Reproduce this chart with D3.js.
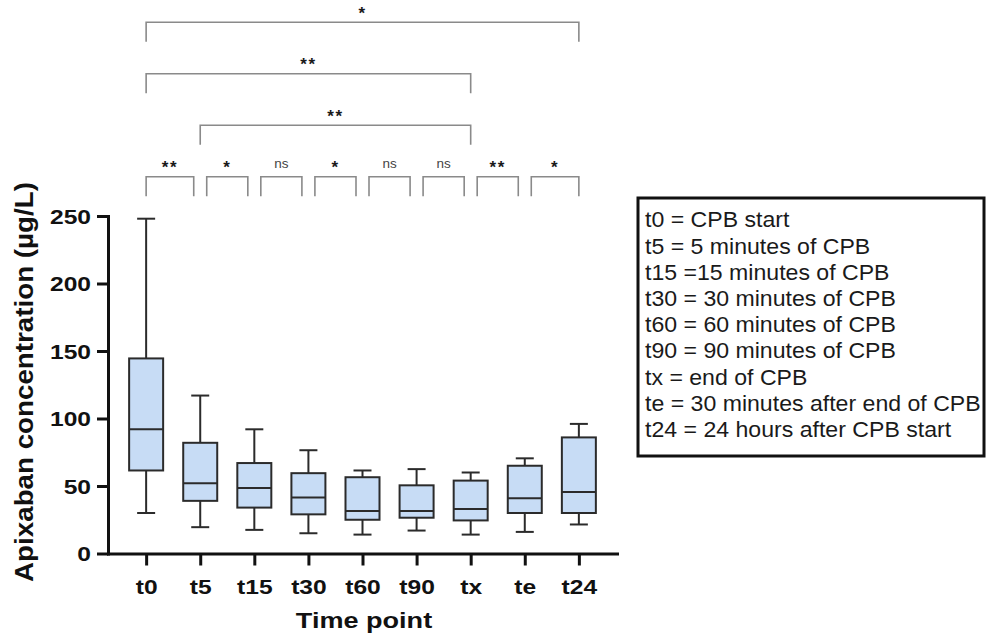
<!DOCTYPE html>
<html>
<head>
<meta charset="utf-8">
<script src="https://cdn.jsdelivr.net/npm/d3@7"></script>
<style>
  html, body { margin: 0; padding: 0; background: #fff; }
  svg { display: block; }
  text { font-family: "Liberation Sans", Arial, Helvetica, sans-serif; }
</style>
</head>
<body>
<svg id="chart" width="986" height="637"></svg>
<script>
// ---------------- data ----------------
const categories = ["t0", "t5", "t15", "t30", "t60", "t90", "tx", "te", "t24"];
const whiskerLow  = [30, 19.5, 17.5, 15, 14, 17, 14, 16, 21.5];
const q1          = [61.5, 39, 34, 29, 25, 26.5, 24.5, 30, 30];
const medians     = [92, 52, 48.5, 41.5, 31.5, 31.5, 33, 41, 45.5];
const q3          = [144.5, 82, 67, 59.5, 56.5, 50.5, 54, 65, 86];
const whiskerHigh = [248, 117, 92, 76.5, 61.5, 62.5, 60, 70.5, 96];
const yTicks = [0, 50, 100, 150, 200, 250];

const compFrom   = ["t0", "t5", "t15", "t30", "t60", "t90", "tx", "te", "t5", "t0", "t0"];
const compTo     = ["t5", "t15", "t30", "t60", "t90", "tx", "te", "t24", "tx", "tx", "t24"];
const compLabel  = ["**", "*", "ns", "*", "ns", "ns", "**", "*", "**", "**", "*"];
const compLevel  = [0, 0, 0, 0, 0, 0, 0, 0, 1, 2, 3];

const legendLines = [
  "t0 = CPB start",
  "t5 = 5 minutes of CPB",
  "t15 =15 minutes of CPB",
  "t30 = 30 minutes of CPB",
  "t60 = 60 minutes of CPB",
  "t90 = 90 minutes of CPB",
  "tx = end of CPB",
  "te = 30 minutes after end of CPB",
  "t24 = 24 hours after CPB start"
];

// ---------------- layout ----------------
const svg = d3.select("#chart");
const x = d3.scalePoint().domain(categories).range([108, 617]).padding(0.705);
const y = d3.scaleLinear().domain([0, 250]).range([553.5, 216]);

const boxHalf = 17, capHalf = 9;
const boxFill = "#c7dcf5", boxStroke = "#2b2b2b";

// ---------------- axes ----------------
const yAxis = svg.append("g").attr("transform", "translate(108,0)")
  .call(d3.axisLeft(y).tickValues(yTicks).tickSize(11).tickSizeOuter(0));
const xAxis = svg.append("g").attr("transform", "translate(0,553.5)")
  .call(d3.axisBottom(x).tickSize(12).tickSizeOuter(0));

[yAxis, xAxis].forEach(g => {
  g.select(".domain").attr("stroke", "#111").attr("stroke-width", 3).attr("stroke-linecap", "square");
  g.selectAll(".tick line").attr("stroke", "#111").attr("stroke-width", 3);
  g.selectAll(".tick text")
    .attr("fill", "#111")
    .attr("font-size", 20.5)
    .attr("font-weight", "bold")
    .style("font-family", "'Liberation Sans', Arial, sans-serif");
});
yAxis.selectAll(".tick text")
  .attr("x", 0).attr("dy", "0.36em").attr("text-anchor", "end")
  .attr("transform", "translate(-17,0) scale(1.2,1)");
xAxis.selectAll(".tick text")
  .attr("y", 0).attr("dy", 0).attr("text-anchor", "middle")
  .attr("transform", "translate(0,40.5) scale(1.2,1)");

// axis titles
svg.append("text")
  .attr("transform", "translate(364,627.5) scale(1.23,1)")
  .attr("text-anchor", "middle")
  .attr("font-size", 22).attr("font-weight", "bold").attr("fill", "#111")
  .text("Time point");
svg.append("text")
  .attr("transform", "translate(33,382) rotate(-90) scale(1.11,1)")
  .attr("text-anchor", "middle")
  .attr("font-size", 25).attr("font-weight", "bold").attr("fill", "#111")
  .text("Apixaban concentration (µg/L)");

// ---------------- boxes ----------------
const boxes = svg.append("g");
categories.forEach((c, i) => {
  const cx = x(c);
  const g = boxes.append("g");
  g.append("line").attr("x1", cx).attr("x2", cx).attr("y1", y(whiskerHigh[i])).attr("y2", y(q3[i]))
    .attr("stroke", boxStroke).attr("stroke-width", 2);
  g.append("line").attr("x1", cx).attr("x2", cx).attr("y1", y(q1[i])).attr("y2", y(whiskerLow[i]))
    .attr("stroke", boxStroke).attr("stroke-width", 2);
  [whiskerHigh[i], whiskerLow[i]].forEach(v => {
    g.append("line").attr("x1", cx - capHalf).attr("x2", cx + capHalf).attr("y1", y(v)).attr("y2", y(v))
      .attr("stroke", boxStroke).attr("stroke-width", 2);
  });
  g.append("rect").attr("x", cx - boxHalf).attr("width", boxHalf * 2)
    .attr("y", y(q3[i])).attr("height", y(q1[i]) - y(q3[i]))
    .attr("fill", boxFill).attr("stroke", boxStroke).attr("stroke-width", 2);
  g.append("line").attr("x1", cx - boxHalf).attr("x2", cx + boxHalf).attr("y1", y(medians[i])).attr("y2", y(medians[i]))
    .attr("stroke", boxStroke).attr("stroke-width", 2);
});

// ---------------- significance brackets ----------------
const levelY = [176.7, 125.3, 73.7, 22.3];
const drop = 19.5;
const br = svg.append("g");
const lastIdx = categories.length - 1;
compFrom.forEach((a, k) => {
  const ia = categories.indexOf(a), ib = categories.indexOf(compTo[k]);
  const lvl = compLevel[k];
  const insetL = (lvl === 0 && ia > 0) ? 6.5 : 0;
  const insetR = (lvl === 0 && ib < lastIdx) ? 6.5 : 0;
  const x1 = x(a) + insetL, x2 = x(compTo[k]) - insetR;
  const yy = levelY[lvl];
  br.append("path")
    .attr("d", `M${x1},${yy + drop}V${yy}H${x2}V${yy + drop}`)
    .attr("fill", "none").attr("stroke", "#8a8a8a").attr("stroke-width", 1.6);
  const lab = compLabel[k];
  const isNs = lab === "ns";
  br.append("text")
    .attr("x", (x1 + x2) / 2)
    .attr("y", isNs ? yy - 8.5 : yy - 3.5)
    .attr("text-anchor", "middle")
    .attr("font-size", isNs ? 13.5 : 17)
    .attr("font-weight", isNs ? "normal" : "bold")
    .attr("letter-spacing", isNs ? 0 : 1.5)
    .attr("fill", isNs ? "#444" : "#1a1a1a")
    .text(lab);
});

// ---------------- legend ----------------
const lg = svg.append("g");
lg.append("rect").attr("x", 638).attr("y", 198).attr("width", 346).attr("height", 258)
  .attr("fill", "#fff").attr("stroke", "#111").attr("stroke-width", 3);
legendLines.forEach((t, i) => {
  lg.append("text")
    .attr("transform", `translate(645,${227.3 + i * 26.2}) scale(1.05,1)`)
    .attr("font-size", 22).attr("fill", "#1a1a1a")
    .text(t);
});
</script>
</body>
</html>
